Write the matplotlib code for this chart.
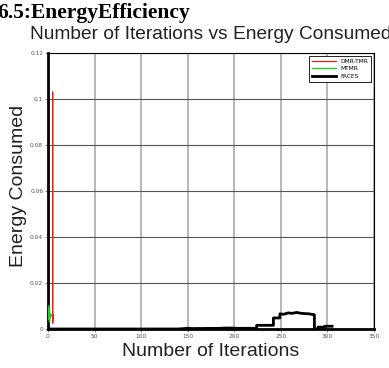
import matplotlib.pyplot as plt

# DMR-TMR: a single tall spike near the start
dmr_x = [2.0, 5.0, 5.0, 5.0, 6.0]
dmr_y = [0.0060, 0.0060, 0.1030, 0.0025, 0.0060]

# MTMR: short noisy burst at the very beginning
mtmr_x = [0.8, 1.1, 1.4, 1.7, 2.0, 2.3, 2.6, 3.0]
mtmr_y = [0.0100, 0.0040, 0.0090, 0.0030, 0.0070, 0.0050, 0.0060, 0.0055]

# FACES: stepped curve over the iterations
faces_x = [0, 140, 150, 155, 185, 190, 198, 203, 224, 224, 242, 242, 249, 249,
           253, 258, 262, 267, 272, 280, 286, 286, 290, 290, 297, 297, 305]
faces_y = [0.0, 0.0, 0.0003, 0.0002, 0.0003, 0.0004, 0.0004, 0.0003, 0.0003,
           0.0016, 0.0016, 0.0048, 0.0048, 0.0066, 0.0064, 0.0070, 0.0068,
           0.0072, 0.0068, 0.0066, 0.0062, 0.0, 0.0, 0.0008, 0.0008, 0.0012, 0.0012]

y_ticks = [0, 0.02, 0.04, 0.06, 0.08, 0.1, 0.12]
y_tick_labels = ["0", "0.02", "0.04", "0.06", "0.08", "0.1", "0.12"]
x_ticks = [0, 50, 100, 150, 200, 250, 300, 350]


def main():
    fig = plt.figure(figsize=(3.89, 3.68), dpi=100)
    ax = fig.add_axes([48 / 389, 39 / 368, 326 / 389, 276 / 368])

    ax.plot(dmr_x, dmr_y, color="#e8201c", lw=0.9, label="DMR-TMR", zorder=3)
    ax.plot(mtmr_x, mtmr_y, color="#22cc22", lw=1.0, label="MTMR", zorder=3)
    ax.plot(faces_x, faces_y, color="black", lw=2.0, label="FACES", zorder=3)

    ax.set_xlim(0, 350)
    ax.set_ylim(0, 0.12)
    ax.set_xticks(x_ticks)
    ax.set_yticks(y_ticks)
    ax.set_yticklabels(y_tick_labels)
    ax.tick_params(labelsize=4.2, length=2, width=0.5, colors="#555555", pad=1.5)

    ax.xaxis.grid(True, color="#b8b8b8", lw=1.4)
    ax.yaxis.grid(True, color="#555555", lw=0.8)
    ax.set_axisbelow(True)

    for side in ["left", "bottom"]:
        ax.spines[side].set_linewidth(2.0)
    for side in ["top", "right"]:
        ax.spines[side].set_linewidth(0.8)

    leg = ax.legend(loc="upper right", fontsize=4.2, frameon=True, fancybox=False,
                    edgecolor="black", handlelength=4, borderpad=0.5,
                    labelspacing=0.4, framealpha=1)
    leg.get_frame().set_linewidth(0.6)

    ax.set_xlabel("Number of Iterations", fontsize=14, family="Liberation Sans",
                  color="#222222", labelpad=3)
    ax.set_ylabel("Energy Consumed", fontsize=14, family="Liberation Sans",
                  color="#222222")
    ax.yaxis.set_label_coords(-0.064, 0.52)

    fig.text(190 / 389, 1 - 18 / 368, "6.5:EnergyEfficiency", ha="right",
             va="baseline", fontsize=15.5, fontweight="bold",
             family="Liberation Serif")
    fig.text(30 / 389, 1 - 39 / 368, "Number of Iterations vs Energy Consumed",
             ha="left", va="baseline", fontsize=13.8, family="Liberation Sans",
             color="#222222")

    plt.savefig("out.png", dpi=100)


if __name__ == "__main__":
    main()
